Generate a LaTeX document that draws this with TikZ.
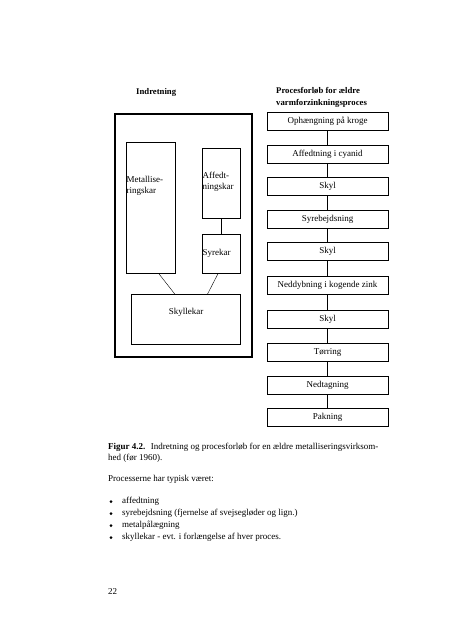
\documentclass[tikz,border=0pt]{standalone}
\usepackage{fontspec}
\setmainfont{Liberation Serif}
\usepackage{tikz}
\usetikzlibrary{positioning,calc}

\tikzset{
  tank/.style={draw, thin, anchor=north west, inner sep=0pt},
  proc/.style={draw, thin, minimum width=121pt, minimum height=18pt, inner sep=0pt},
  txt/.style={inner sep=0pt, anchor=west, align=left},
  head/.style={txt, font=\bfseries\fontsize{8.7}{12}\selectfont},
}

\begin{document}
\begin{tikzpicture}[x=1pt, y=-1pt, font=\fontsize{9}{11}\selectfont]
  \useasboundingbox[fill=white] (0,0) rectangle (452,640);
  % headings
  \node [head] (hindr) at (136,92.5) {Indretning};
  \node [head] (hproc) at (276,97.5) {Procesforløb for ældre\\varmforzinkningsproces};
  % layout of the plant
  \draw [line width=1.4pt] (115,114) rectangle (252,357);
  \node [tank, minimum width=49pt, minimum height=131pt] (metal) at (126,142) {};
  \node [tank, minimum width=38pt, minimum height=70pt] (affedt) at (202,148) {};
  \node [tank, minimum width=38pt, minimum height=39pt] (syre) at (202,234) {};
  \node [tank, minimum width=109pt, minimum height=50pt] (skyl) at (131,294) {};
  \node [txt] at (126.5,185.5) {Metallise-\\ringskar};
  \node [txt] at (202.5,181.5) {Affedt-\\ningskar};
  \node [txt] at (202.5,253) {Syrekar};
  \node [inner sep=0pt] at (186,312) {Skyllekar};
  \draw (affedt.south) -- (syre.north);
  \draw ($(metal.south west)!0.66!(metal.south east)$) -- ($(skyl.north west)!0.40!(skyl.north east)$);
  \draw ($(syre.south west)!0.42!(syre.south east)$) -- ($(skyl.north west)!0.70!(skyl.north east)$);
  % process flow
  \node [proc] (p1) at (327.5,121.5) {Ophængning på kroge};
  \node [proc] (p2) at (327.5,154.5) {Affedtning i cyanid};
  \node [proc] (p3) at (327.5,186.5) {Skyl};
  \node [proc] (p4) at (327.5,219.5) {Syrebejdsning};
  \node [proc] (p5) at (327.5,251.5) {Skyl};
  \node [proc] (p6) at (327.5,285.5) {Neddybning i kogende zink};
  \node [proc] (p7) at (327.5,319) {Skyl};
  \node [proc] (p8) at (327.5,352.5) {Tørring};
  \node [proc] (p9) at (327.5,385) {Nedtagning};
  \node [proc] (p10) at (327.5,417.5) {Pakning};
  \foreach \a/\b in {p1/p2,p2/p3,p3/p4,p4/p5,p5/p6,p6/p7,p7/p8,p8/p9,p9/p10}
    \draw (\a.south) -- (\b.north);
  % text below the figure
  \node [txt] (cap) at (108,453) {\textbf{Figur 4.2.}\hspace{0.6em}Indretning og procesforløb for en ældre metalliseringsvirksom-\\hed (før 1960).};
  \node [txt] (intro) at (108,479) {Processerne har typisk været:};
  \node [txt] (b1) at (122,501) {affedtning};
  \node [txt] (b2) at (122,513) {syrebejdsning (fjernelse af svejsegløder og lign.)};
  \node [txt] (b3) at (122,525) {metalpålægning};
  \node [txt] (b4) at (122,537) {skyllekar - evt. i forlængelse af hver proces.};
  \foreach \n in {b1,b2,b3,b4}
    \fill ($(\n.west)+(-11,0.5)$) circle (1.5pt);
  \node [txt] (page) at (108,592) {22};
\end{tikzpicture}
\end{document}
